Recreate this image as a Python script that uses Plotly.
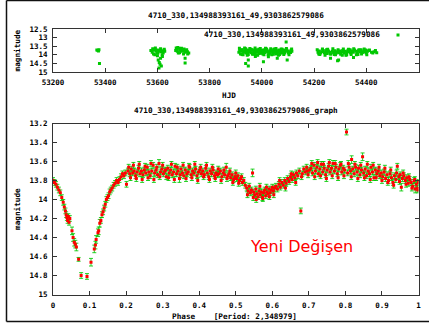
import plotly.graph_objects as go

W, H = 429, 327

STAR = "4710_330,134988393161_49,9303862579086"

# ---- light curve (HJD vs magnitude) ----
hjd = [
    53368, 53372, 53376, 53374, 53378,
    53575, 53580, 53585, 53590, 53595, 53600, 53605, 53610, 53615, 53620, 53625,
    53600, 53603, 53607, 53610, 53606, 53615, 53612, 53590, 53622, 53618, 53585,
    53598, 53628, 53582, 53592, 53602, 53612, 53619, 53626,
    53670, 53674, 53678, 53682, 53686, 53690, 53695, 53700, 53705, 53710, 53715,
    53720, 53700, 53685, 53706, 53706, 53712, 53676, 53672, 53680, 53692, 53702,
    53716,
    53915, 53920, 53925, 53930, 53935, 53940, 53945, 53950, 53955, 53960, 53965,
    53970, 53975, 53980, 53985, 53990, 53995, 54000, 54005, 54010, 54015, 54020,
    54025, 54030, 54035, 54040, 54045, 54050, 54055, 54060, 54065, 54070, 54075,
    54080, 54085, 54090, 54095, 54100, 54105, 54110, 54115,
    53918, 53928, 53938, 53948, 53958, 53968, 53978, 53988, 53998, 54008, 54018,
    54028, 54038, 54048, 54058, 54068, 54078, 54088,
    53912, 53922, 53932, 53942, 53952, 53962, 53972, 53982, 53992, 54002, 54012,
    54022, 54032, 54042, 54052, 54062, 54072, 54082, 54092, 54102, 54112,
    53914, 53924, 53934, 53944, 53954, 53964, 53974, 53984, 53994, 54004, 54014,
    54024, 54034, 54044, 54054, 54064, 54074, 54084, 54094, 54104, 54114,
    53948, 53938, 53948, 54006, 54025, 54059, 54097, 54093, 53975,
    54215, 54220, 54225, 54230, 54235, 54240, 54245, 54250, 54255, 54260, 54265,
    54270, 54275, 54280, 54285, 54290, 54295, 54300, 54305, 54310, 54315, 54320,
    54325, 54330, 54335, 54340, 54345, 54350, 54355, 54360, 54365, 54370, 54375,
    54380, 54385, 54390, 54395, 54400, 54405, 54410, 54420, 54430, 54440,
    54212, 54222, 54232, 54242, 54252, 54262, 54272, 54282, 54292, 54302, 54312,
    54322, 54332, 54342, 54352, 54362, 54372, 54382, 54392, 54402, 54412, 54425,
    54435,
    54263, 54294, 54290, 54351, 54325, 54218, 54248, 54278, 54308, 54338, 54368,
    54398,
]
hjd_mag = [
    13.72, 13.75, 13.70, 13.78, 14.50,
    13.75, 13.85, 13.95, 14.00, 13.78, 13.72, 13.80, 13.75, 13.82, 13.78, 13.74,
    14.05, 14.30, 14.45, 14.55, 14.77, 14.65, 14.20, 13.70, 13.90, 14.00, 13.72,
    13.90, 13.80, 13.65, 13.60, 13.90, 13.65, 14.10, 13.68,
    13.75, 13.65, 13.58, 13.62, 13.70, 13.80, 13.72, 13.78, 13.85, 13.75, 13.82,
    13.90, 13.95, 13.88, 14.20, 14.48, 13.70, 13.80, 13.60, 13.90, 13.62, 13.66,
    13.95,
    13.75, 13.80, 13.70, 13.85, 13.78, 13.90, 13.72, 13.82, 13.76, 13.88, 13.74,
    13.80, 13.70, 13.85, 13.78, 13.92, 13.75, 13.80, 13.72, 13.86, 13.78, 13.74,
    13.82, 13.90, 13.76, 13.80, 13.70, 13.85, 13.95, 13.78, 13.72, 13.80, 13.76,
    13.88, 13.74, 13.80, 13.70, 13.78, 13.82, 13.86, 13.80,
    13.95, 14.00, 13.65, 13.98, 13.68, 13.95, 14.00, 13.68, 13.90, 14.00, 13.66,
    13.95, 14.00, 13.66, 13.92, 13.98, 13.68, 13.90,
    13.85, 13.72, 13.78, 13.84, 13.76, 13.70, 13.86, 13.74, 13.80, 13.90, 13.70,
    13.84, 13.78, 13.88, 13.74, 13.84, 13.90, 13.78, 13.72, 13.90, 13.74,
    13.62, 13.98, 13.60, 14.02, 13.63, 13.97, 13.61, 14.03, 13.64, 13.96, 13.62,
    14.00, 13.65, 13.97, 13.63, 14.02, 13.66, 13.98, 13.64, 14.00, 13.66,
    14.30, 14.50, 14.65, 14.40, 14.12, 14.20, 14.30, 13.26, 14.10,
    13.85, 13.78, 13.90, 13.82, 13.75, 13.88, 13.80, 13.92, 13.78, 13.85, 13.95,
    13.80, 13.86, 13.76, 13.90, 13.82, 13.88, 13.78, 13.84, 13.75, 13.90, 13.80,
    13.86, 13.74, 13.82, 13.90, 13.78, 13.85, 13.72, 13.80, 13.88, 13.76, 13.82,
    13.70, 13.86, 13.78, 13.84, 13.90, 13.80, 13.75, 13.85, 13.82, 13.88,
    13.70, 13.98, 13.66, 14.02, 13.68, 13.96, 13.65, 14.00, 13.70, 13.97, 13.66,
    14.03, 13.68, 13.98, 13.65, 14.00, 13.70, 13.96, 13.66, 14.00, 13.72, 13.90,
    13.75,
    14.20, 14.30, 14.35, 14.15, 14.00, 13.95, 13.70, 13.98, 14.02, 13.70, 13.98,
    13.72,
]

# ---- phased light curve ----
phase = [
    0.000, 0.004, 0.008, 0.012, 0.016, 0.020, 0.024, 0.028, 0.031, 0.034, 0.036,
    0.038, 0.040, 0.042, 0.044, 0.046, 0.052, 0.055, 0.058, 0.061, 0.064, 0.070,
    0.077, 0.093, 0.104, 0.113, 0.116, 0.118, 0.123, 0.125, 0.128, 0.131, 0.134,
    0.137, 0.140, 0.143, 0.146, 0.149, 0.152, 0.155, 0.158, 0.162, 0.166, 0.170,
    0.174, 0.178, 0.182, 0.186, 0.190, 0.194, 0.198, 0.201,
    0.205, 0.210, 0.214, 0.218, 0.222, 0.226, 0.230, 0.234, 0.238, 0.242, 0.246,
    0.250, 0.254, 0.258, 0.262, 0.266, 0.270, 0.274, 0.278, 0.282, 0.286, 0.290,
    0.294, 0.298, 0.302, 0.306, 0.310, 0.314, 0.318, 0.322, 0.326, 0.330, 0.334,
    0.338, 0.342, 0.346, 0.350, 0.354, 0.358, 0.362, 0.366, 0.370, 0.374, 0.378,
    0.382, 0.386, 0.390, 0.394, 0.398, 0.402, 0.406, 0.410, 0.414, 0.418, 0.422,
    0.426, 0.430, 0.434, 0.438, 0.442, 0.446, 0.450,
    0.207, 0.212, 0.220, 0.228, 0.236, 0.244, 0.252, 0.260, 0.268, 0.276, 0.284,
    0.292, 0.300, 0.308, 0.316, 0.324, 0.332, 0.340, 0.348, 0.356, 0.364, 0.372,
    0.380, 0.388, 0.396, 0.404, 0.412, 0.420, 0.428, 0.436, 0.444,
    0.454, 0.458, 0.462, 0.466, 0.470, 0.474, 0.478, 0.482, 0.486, 0.490, 0.494,
    0.498, 0.502, 0.506, 0.510, 0.514, 0.518, 0.522, 0.526,
    0.452, 0.460, 0.468, 0.476, 0.484, 0.492, 0.500, 0.508, 0.516,
    0.530, 0.534, 0.537, 0.540, 0.543, 0.546, 0.549, 0.552, 0.555, 0.558, 0.561,
    0.564, 0.567, 0.570, 0.573, 0.576, 0.579, 0.582, 0.585, 0.588, 0.591, 0.594,
    0.597, 0.600, 0.603, 0.606, 0.610, 0.614,
    0.532, 0.548, 0.556, 0.566, 0.574, 0.584, 0.592, 0.604,
    0.618, 0.622, 0.626, 0.630, 0.634, 0.638, 0.642, 0.646, 0.650, 0.654, 0.658,
    0.662, 0.666, 0.670, 0.674, 0.678, 0.682, 0.686, 0.690, 0.694, 0.698, 0.702,
    0.620, 0.636, 0.652, 0.664, 0.680, 0.696,
    0.706, 0.710, 0.714, 0.718, 0.722, 0.726, 0.730, 0.734, 0.738, 0.742, 0.746,
    0.750, 0.754, 0.758, 0.762, 0.766, 0.770, 0.774, 0.778, 0.782, 0.786, 0.790,
    0.794, 0.798, 0.803, 0.806, 0.810, 0.814, 0.817, 0.820, 0.824, 0.828, 0.832,
    0.836, 0.840, 0.844, 0.847, 0.850, 0.854, 0.858, 0.862, 0.866, 0.870, 0.874,
    0.878, 0.882, 0.886, 0.890, 0.894,
    0.708, 0.716, 0.724, 0.732, 0.740, 0.748, 0.756, 0.764, 0.772, 0.780, 0.788,
    0.796, 0.808, 0.816, 0.826, 0.834, 0.842, 0.852, 0.860, 0.868, 0.876, 0.884,
    0.892,
    0.898, 0.902, 0.906, 0.910, 0.914, 0.918, 0.922, 0.926, 0.930, 0.934, 0.938,
    0.942, 0.946, 0.950, 0.953, 0.956, 0.960, 0.964, 0.968, 0.972, 0.976, 0.980,
    0.984, 0.988, 0.991, 0.994, 0.997, 1.000,
    0.900, 0.908, 0.916, 0.924, 0.932, 0.940, 0.948, 0.958, 0.966, 0.974, 0.982,
    0.990, 0.998,
]
phase_mag = [
    13.80, 13.82, 13.84, 13.87, 13.90, 13.93, 13.98, 14.03, 14.08, 14.12, 14.16,
    14.19, 14.22, 14.18, 14.24, 14.20, 14.33, 14.40, 14.45, 14.47, 14.50, 14.63,
    14.80, 14.81, 14.66, 14.52, 14.48, 14.42, 14.35, 14.33, 14.25, 14.22, 14.16,
    14.13, 14.09, 14.05, 14.00, 13.98, 13.96, 13.92, 13.90, 13.88, 13.85, 13.83,
    13.80, 13.82, 13.79, 13.76, 13.73, 13.75, 13.72, 13.84,
    13.70, 13.73, 13.68, 13.72, 13.70, 13.75, 13.71, 13.67, 13.73, 13.70, 13.74,
    13.69, 13.72, 13.66, 13.71, 13.75, 13.70, 13.64, 13.72, 13.69, 13.74, 13.62,
    13.71, 13.68, 13.73, 13.70, 13.76, 13.67, 13.72, 13.69, 13.74, 13.71, 13.65,
    13.73, 13.70, 13.78, 13.68, 13.72, 13.75, 13.69, 13.73, 13.71, 13.66, 13.74,
    13.70, 13.72, 13.68, 13.75, 13.71, 13.69, 13.73, 13.70, 13.74, 13.67, 13.72,
    13.76, 13.70, 13.73, 13.69, 13.75, 13.72, 13.74,
    13.66, 13.77, 13.64, 13.78, 13.63, 13.79, 13.65, 13.77, 13.62, 13.79, 13.66,
    13.76, 13.64, 13.69, 13.77, 13.63, 13.79, 13.66, 13.74, 13.64, 13.78, 13.65,
    13.77, 13.63, 13.80, 13.66, 13.76, 13.64, 13.79, 13.66, 13.78,
    13.73, 13.70, 13.76, 13.72, 13.74, 13.66, 13.75, 13.73, 13.77, 13.74, 13.79,
    13.76, 13.78, 13.75, 13.80, 13.78, 13.82, 13.80, 13.85,
    13.68, 13.80, 13.69, 13.78, 13.70, 13.82, 13.72, 13.83, 13.76,
    13.88, 13.91, 13.86, 13.93, 13.90, 13.72, 13.92, 13.95, 13.89, 13.94, 13.97,
    13.91, 13.95, 13.92, 13.98, 13.93, 13.90, 13.96, 13.92, 13.94, 13.89, 13.93,
    13.90, 13.87, 13.91, 13.88, 13.86, 13.89,
    13.95, 13.98, 14.00, 13.86, 13.99, 13.87, 13.97, 13.95,
    13.84, 13.87, 13.82, 13.85, 13.80, 13.83, 13.78, 13.81, 13.76, 13.79, 13.74,
    13.77, 13.72, 13.75, 13.70, 14.12, 13.73, 13.68, 13.71, 13.66, 13.74, 13.69,
    13.80, 13.88, 13.73, 13.82, 13.76, 13.70,
    13.67, 13.72, 13.64, 13.70, 13.66, 13.73, 13.68, 13.63, 13.71, 13.67, 13.74,
    13.69, 13.65, 13.71, 13.67, 13.62, 13.70, 13.66, 13.73, 13.68, 13.64, 13.71,
    13.67, 13.69, 13.29, 13.72, 13.66, 13.70, 13.58, 13.68, 13.73, 13.66, 13.71,
    13.67, 13.74, 13.69, 13.55, 13.72, 13.68, 13.75, 13.70, 13.73, 13.66, 13.71,
    13.77, 13.69, 13.73, 13.70, 13.75,
    13.62, 13.76, 13.61, 13.75, 13.63, 13.78, 13.61, 13.75, 13.62, 13.77, 13.63,
    13.75, 13.62, 13.76, 13.63, 13.78, 13.64, 13.77, 13.63, 13.79, 13.64, 13.77,
    13.66,
    13.72, 13.76, 13.71, 13.78, 13.74, 13.80, 13.73, 13.77, 13.82, 13.75, 13.79,
    13.65, 13.76, 13.74, 13.87, 13.78, 13.75, 13.80, 13.77, 13.83, 13.79, 13.82,
    13.86, 13.80, 13.89, 13.84, 13.88, 13.82,
    13.80, 13.67, 13.82, 13.69, 13.85, 13.72, 13.81, 13.72, 13.84, 13.76, 13.88,
    13.79, 13.90,
]
phase_err = [
    0.03, 0.03, 0.03, 0.03, 0.03, 0.03, 0.03, 0.03, 0.03, 0.03, 0.03,
    0.03, 0.03, 0.03, 0.03, 0.03, 0.04, 0.04, 0.04, 0.04, 0.04, 0.02,
    0.03, 0.03, 0.04, 0.04, 0.04, 0.04, 0.04, 0.04, 0.04, 0.03, 0.03,
    0.03, 0.03, 0.03, 0.03, 0.03, 0.03, 0.03, 0.03, 0.03, 0.03, 0.03,
    0.03, 0.03, 0.03, 0.03, 0.03, 0.03, 0.03, 0.03,
    0.03, 0.03, 0.03, 0.03, 0.03, 0.03, 0.03, 0.03, 0.03, 0.03, 0.03,
    0.03, 0.03, 0.03, 0.03, 0.03, 0.03, 0.03, 0.03, 0.03, 0.03, 0.04,
    0.03, 0.03, 0.03, 0.03, 0.03, 0.03, 0.03, 0.03, 0.03, 0.03, 0.03,
    0.03, 0.03, 0.04, 0.03, 0.03, 0.03, 0.03, 0.03, 0.03, 0.03, 0.03,
    0.03, 0.03, 0.03, 0.03, 0.03, 0.03, 0.03, 0.03, 0.03, 0.03, 0.03,
    0.03, 0.03, 0.03, 0.03, 0.03, 0.03, 0.03,
    0.03, 0.03, 0.03, 0.03, 0.03, 0.03, 0.03, 0.03, 0.03, 0.03, 0.03,
    0.03, 0.03, 0.03, 0.03, 0.03, 0.03, 0.03, 0.03, 0.03, 0.03, 0.03,
    0.03, 0.03, 0.03, 0.03, 0.03, 0.03, 0.03, 0.03, 0.03,
    0.03, 0.03, 0.03, 0.03, 0.03, 0.04, 0.03, 0.03, 0.03, 0.03, 0.03,
    0.03, 0.03, 0.03, 0.03, 0.03, 0.03, 0.03, 0.03,
    0.03, 0.03, 0.03, 0.03, 0.03, 0.03, 0.03, 0.03, 0.03,
    0.03, 0.03, 0.03, 0.03, 0.03, 0.04, 0.03, 0.03, 0.03, 0.03, 0.03,
    0.03, 0.03, 0.03, 0.03, 0.03, 0.03, 0.03, 0.03, 0.03, 0.03, 0.03,
    0.03, 0.03, 0.03, 0.03, 0.03, 0.03,
    0.03, 0.03, 0.03, 0.03, 0.03, 0.03, 0.03, 0.03,
    0.03, 0.03, 0.03, 0.03, 0.03, 0.03, 0.03, 0.03, 0.03, 0.03, 0.03,
    0.03, 0.03, 0.03, 0.03, 0.03, 0.03, 0.03, 0.03, 0.03, 0.03, 0.03,
    0.03, 0.03, 0.03, 0.03, 0.03, 0.03,
    0.03, 0.03, 0.03, 0.03, 0.03, 0.03, 0.03, 0.03, 0.03, 0.03, 0.03,
    0.03, 0.03, 0.03, 0.03, 0.03, 0.03, 0.03, 0.03, 0.03, 0.03, 0.03,
    0.03, 0.03, 0.03, 0.03, 0.03, 0.03, 0.04, 0.03, 0.03, 0.03, 0.03,
    0.03, 0.03, 0.03, 0.04, 0.03, 0.03, 0.03, 0.03, 0.03, 0.03, 0.03,
    0.03, 0.03, 0.03, 0.03, 0.03,
    0.03, 0.03, 0.03, 0.03, 0.03, 0.03, 0.03, 0.03, 0.03, 0.03, 0.03,
    0.03, 0.03, 0.03, 0.03, 0.03, 0.03, 0.03, 0.03, 0.03, 0.03, 0.03,
    0.03,
    0.03, 0.03, 0.03, 0.03, 0.03, 0.03, 0.03, 0.03, 0.03, 0.03, 0.03,
    0.03, 0.03, 0.03, 0.04, 0.03, 0.03, 0.03, 0.03, 0.03, 0.03, 0.03,
    0.03, 0.03, 0.04, 0.03, 0.03, 0.03,
    0.03, 0.03, 0.03, 0.03, 0.03, 0.03, 0.03, 0.03, 0.03, 0.03, 0.03,
    0.03, 0.03,
]

hjd_ticks = [53200, 53400, 53600, 53800, 54000, 54200, 54400, 54600]
mag_ticks_top = [12.5, 13, 13.5, 14, 14.5, 15]
phase_ticks = [0, 0.1, 0.2, 0.3, 0.4, 0.5, 0.6, 0.7, 0.8, 0.9, 1]
mag_ticks_bottom = [13.2, 13.4, 13.6, 13.8, 14, 14.2, 14.4, 14.6, 14.8, 15]

GREEN = "#00c800"
RED = "#ff0000"
BLUE = "#4da6ff"
AXIS = "#333333"

MONO = "DejaVu Sans Mono"
tick_font = dict(family=MONO, size=7.5, color="#000000", weight="bold")
label_font = dict(family=MONO, size=7.7, color="#000000", weight="bold")


def px_x(p):
    return p / W


def px_y(p):
    return 1 - p / H


fig = go.Figure()

fig.add_trace(go.Scatter(
    x=hjd, y=hjd_mag, mode="markers", name=" ",
    marker=dict(symbol="square", size=3, color=GREEN, line=dict(width=0)),
    error_y=dict(type="constant", value=0.02, color=BLUE, thickness=1, width=1),
    xaxis="x", yaxis="y", showlegend=True,
))

fig.add_trace(go.Scatter(
    x=phase, y=phase_mag, mode="markers",
    marker=dict(symbol="square", size=3, color=RED, line=dict(width=0)),
    error_y=dict(type="data", array=phase_err, color="rgba(0,200,0,0.85)",
                 thickness=1, width=2),
    xaxis="x2", yaxis="y2", showlegend=False,
))

axis_common = dict(
    showgrid=False, zeroline=False, showline=True, linecolor=AXIS, linewidth=1,
    mirror="ticks", ticks="inside", ticklen=4, tickcolor=AXIS, tickwidth=1,
    tickfont=tick_font, automargin=False, ticklabelstandoff=3,
)

fig.update_layout(
    width=W, height=H,
    margin=dict(l=0, r=0, t=0, b=0, autoexpand=False),
    paper_bgcolor="white", plot_bgcolor="white",
    xaxis=dict(domain=[px_x(53), px_x(418.5)], range=[53200, 54600],
               tickvals=hjd_ticks, tickformat="d", anchor="y", **axis_common),
    yaxis=dict(domain=[px_y(72), px_y(29)], range=[15, 12.5],
               tickvals=mag_ticks_top, anchor="x", **axis_common),
    xaxis2=dict(domain=[px_x(53), px_x(418.5)], range=[0, 1],
                tickvals=phase_ticks, anchor="y2", **axis_common),
    yaxis2=dict(domain=[px_y(294.5), px_y(123.5)], range=[15, 13.2],
                tickvals=mag_ticks_bottom, anchor="x2", **axis_common),
    legend=dict(x=px_x(378), y=px_y(35), xanchor="left", yanchor="middle",
                bgcolor="rgba(0,0,0,0)", borderwidth=0, font=label_font,
                itemwidth=30),
    showlegend=True,
)

annotations = [
    dict(text=STAR, x=px_x(235.5), y=px_y(15.7)),
    dict(text=STAR, x=px_x(382), y=px_y(35), xanchor="right"),
    dict(text="HJD", x=px_x(229), y=px_y(95)),
    dict(text="magnitude", x=px_x(17), y=px_y(50.5), textangle=-90),
    dict(text=STAR + "_graph", x=px_x(235.5), y=px_y(111)),
    dict(text="Phase\u00a0\u00a0\u00a0\u00a0[Period:\u00a02,348979]",
         x=px_x(234.5), y=px_y(316)),
    dict(text="magnitude", x=px_x(17), y=px_y(209), textangle=-90),
]
for a in annotations:
    a.setdefault("xanchor", "center")
    fig.add_annotation(xref="paper", yref="paper", showarrow=False,
                       yanchor="middle", font=label_font, **a)

fig.add_annotation(
    text="Yeni Değişen", xref="paper", yref="paper", x=px_x(301.5), y=px_y(246),
    showarrow=False, xanchor="center", yanchor="middle",
    font=dict(family="DejaVu Sans", size=16, color=RED),
)

# outer frame
frame = dict(type="line", xref="paper", yref="paper",
             line=dict(color="#111111", width=1.5))
fig.add_shape(x0=px_x(6.5), x1=px_x(6.5), y0=px_y(0.5), y1=px_y(321.5), **frame)
fig.add_shape(x0=px_x(6.5), x1=1, y0=px_y(0.5), y1=px_y(0.5), **frame)
fig.add_shape(x0=px_x(6.5), x1=1, y0=px_y(321.5), y1=px_y(321.5), **frame)

fig.write_html("out.html")
